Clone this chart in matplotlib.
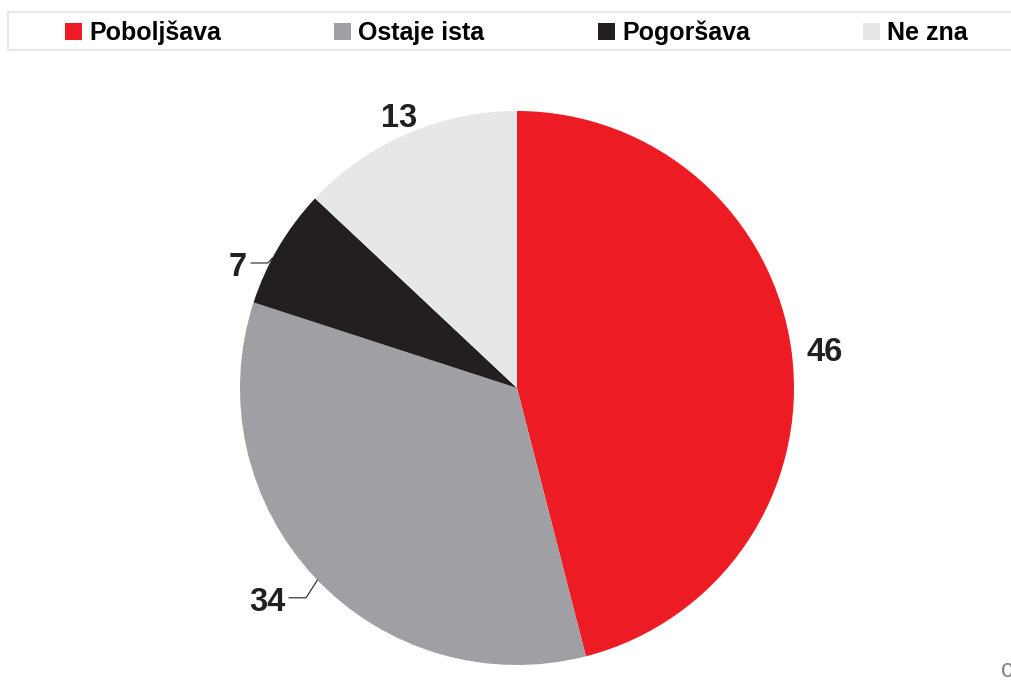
import numpy as np
import matplotlib
matplotlib.use("Agg")
import matplotlib.pyplot as plt
from matplotlib.patches import Rectangle

categories = ["Poboljšava", "Ostaje ista", "Pogoršava", "Ne zna"]
values = [46, 34, 7, 13]
colors = ["#ED1C24", "#A09FA4", "#231F20", "#E6E7E8"]

W, H = 1012, 691
fig = plt.figure(figsize=(W / 100, H / 100), dpi=100)
ax = fig.add_axes([0, 0, 1, 1])

cx, cy, R = 517, H - 388, 277
wedges, _ = ax.pie(values, colors=colors, startangle=90, counterclock=False,
                   center=(cx, cy), radius=R, frame=True,
                   wedgeprops=dict(linewidth=0))
ax.set_xlim(0, W)
ax.set_ylim(0, H)
ax.axis("off")

FONT = "Liberation Sans"
LBL = dict(fontsize=23.5, fontweight="bold", family=FONT, color="#231F20")

def polar(ang_deg, r):
    a = np.deg2rad(ang_deg)
    return cx + r * np.cos(a), cy + r * np.sin(a)

# label placement: (distance factor, angle, leader edge angle or None)
label_cfg = {
    46: (1.12, None, None),
    34: (1.134, 222.4, 223.9),
    7: (1.071, 155.5, 152.0),
    13: (1.07, None, None),
}
DY = -3  # vertical nudge of the label text
for w, v in zip(wedges, values):
    df, ang, edge = label_cfg[v]
    mid = (w.theta1 + w.theta2) / 2
    if edge is None:
        lx, ly = polar(mid, df * R)
        ax.text(lx, ly + DY, str(v), ha="center", va="center", **LBL)
    else:
        lx, ly = polar(ang, df * R)
        ex, ey = polar(edge, R)
        ax.plot([lx + 4, lx + 21, ex], [ly + 2, ly + 2, ey],
                color="#231F20", lw=0.8)
        ax.text(lx, ly + DY, str(v), ha="right", va="center", **LBL)

# legend drawn manually
ax.add_patch(Rectangle((8, H - 50), 1030, 38, facecolor="white",
                       edgecolor="#E3E3E3", lw=1.2, clip_on=False))
leg_x = [65, 334, 598, 863]
for x, c, t in zip(leg_x, colors, categories):
    ax.add_patch(Rectangle((x, H - 40), 17, 17, facecolor=c, edgecolor="none"))
    ax.text(x + 24, H - 33, t, ha="left", va="center", fontsize=18,
            fontweight="bold", family=FONT, color="black")

ax.text(1001, H - 670, "c", ha="left", va="center", fontsize=18,
        family=FONT, color="#888888")

fig.savefig("out.png", dpi=100)
